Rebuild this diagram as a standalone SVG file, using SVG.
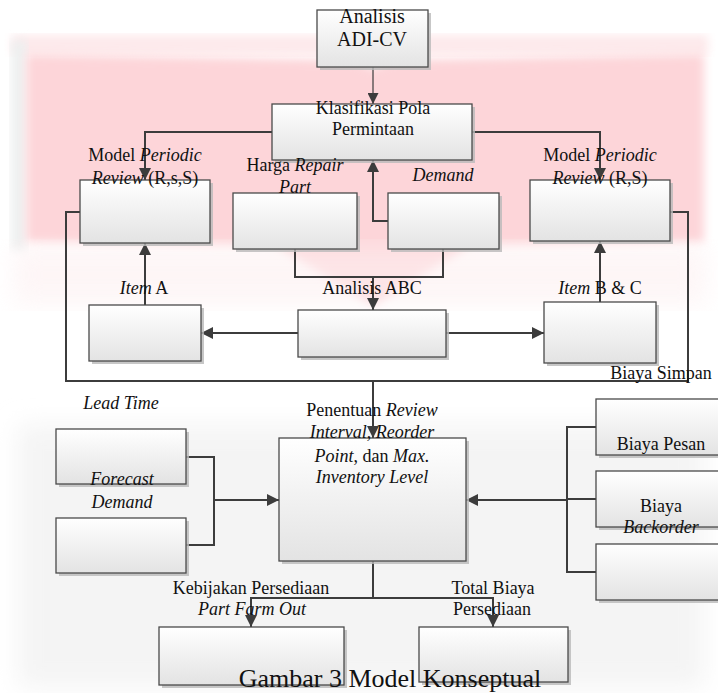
<svg xmlns="http://www.w3.org/2000/svg" width="718" height="693" viewBox="0 0 718 693" font-family="'Liberation Serif', 'Times New Roman', serif">
<defs>
<linearGradient id="g" x1="0" y1="0" x2="0" y2="1">
<stop offset="0" stop-color="#ffffff"/>
<stop offset="1" stop-color="#e3e3e3"/>
</linearGradient>
<filter id="blur" x="-10%" y="-10%" width="120%" height="120%"><feGaussianBlur stdDeviation="5"/></filter>
<filter id="blur2" x="-10%" y="-10%" width="120%" height="120%"><feGaussianBlur stdDeviation="12"/></filter>
<marker id="ah" viewBox="0 0 12 12" markerWidth="12" markerHeight="12" refX="12" refY="6" orient="auto" markerUnits="userSpaceOnUse">
<path d="M0,0 L12,6 L0,12 z" fill="#3c3c3c"/>
</marker>
<marker id="ahs" viewBox="0 0 12 12" markerWidth="11" markerHeight="11" refX="12" refY="6" orient="auto" markerUnits="userSpaceOnUse">
<path d="M0,0 L12,6 L0,12 z" fill="#3c3c3c"/>
</marker>
</defs>
<style>
.box{fill:url(#g);stroke:#4a4a4a;stroke-width:1.3}
.sh{fill:#b9b9b9;opacity:0.8}
.t{font-family:"Liberation Serif","Times New Roman",serif;font-size:18px;fill:#111;text-anchor:middle}
.i{font-style:italic}
.c{fill:none;stroke:#3c3c3c;stroke-width:2}
</style>
<rect width="718" height="693" fill="#ffffff"/>
<g id="background">
<rect x="12" y="35" width="696" height="20" fill="#fde9eb" filter="url(#blur)"/>
<rect x="11" y="40" width="16" height="210" fill="#eef0f0" filter="url(#blur)"/>
<polygon points="26,54 355,60 373,68 391,60 704,54 704,242 470,246 373,305 276,246 26,242" fill="#fdd5d9" filter="url(#blur)"/>
<rect x="14" y="245" width="692" height="60" fill="#fdf0f1" opacity="0.6" filter="url(#blur2)"/>
<rect x="18" y="425" width="686" height="262" fill="#f4f4f4" filter="url(#blur2)"/>
</g>
<g id="connectors">
<line x1="373" y1="67" x2="373" y2="104" stroke="#3c3c3c" stroke-width="1.2" marker-end="url(#ahs)"/>
<polyline class="c" points="272,132 145,132 145,180" marker-end="url(#ah)"/>
<polyline class="c" points="472,132 600,132 600,180" marker-end="url(#ah)"/>
<polyline class="c" points="388,221 373,221 373,160" marker-end="url(#ah)"/>
<polyline class="c" points="295,249 295,277 443,277 443,249"/>
<line class="c" x1="373" y1="277" x2="373" y2="310" marker-end="url(#ah)"/>
<line class="c" x1="298" y1="333" x2="201" y2="333" marker-end="url(#ah)"/>
<line class="c" x1="446" y1="333" x2="544" y2="333" marker-end="url(#ah)"/>
<line class="c" x1="145" y1="305" x2="145" y2="243" marker-end="url(#ah)"/>
<line class="c" x1="600" y1="302" x2="600" y2="241" marker-end="url(#ah)"/>
<polyline class="c" points="80,212 66,212 66,381 688,381 688,212 670,212"/>
<line class="c" x1="373" y1="381" x2="373" y2="438" marker-end="url(#ah)"/>
<polyline class="c" points="186,457 214,457 214,545 186,545"/>
<line class="c" x1="214" y1="500" x2="279" y2="500" marker-end="url(#ah)"/>
<polyline class="c" points="596,427 567,427 567,572 596,572"/>
<line class="c" x1="596" y1="499" x2="567" y2="499"/>
<line class="c" x1="567" y1="500" x2="466" y2="500" marker-end="url(#ah)"/>
<polyline class="c" points="373,561 373,598"/>
<polyline class="c" points="251,627 251,598 493,598 493,627"/>
<line x1="251" y1="600" x2="251" y2="627" stroke="none" marker-end="url(#ah)"/>
<line x1="493" y1="600" x2="493" y2="627" stroke="none" marker-end="url(#ah)"/>
</g>
<g id="adi-cv">
<rect class="sh" x="320" y="13" width="111" height="57"/>
<rect class="box" x="317" y="10" width="111" height="57"/>
<text class="t" x="372" y="23" style="font-size:20px">Analisis</text>
<text class="t" x="372" y="46" style="font-size:20px">ADI-CV</text>
</g>
<g id="klasifikasi">
<rect class="sh" x="275" y="107" width="200" height="56"/>
<rect class="box" x="272" y="104" width="200" height="56"/>
<text class="t" x="373" y="114">Klasifikasi Pola</text>
<text class="t" x="373" y="135">Permintaan</text>
</g>
<g id="model-rss">
<rect class="sh" x="83" y="183" width="130" height="63"/>
<rect class="box" x="80" y="180" width="130" height="63"/>
<text class="t" x="145" y="161">Model <tspan class="i">Periodic</tspan></text>
<text class="t" x="145" y="184"><tspan class="i">Review</tspan> (R,s,S)</text>
</g>
<g id="harga">
<rect class="sh" x="236" y="196" width="124" height="56"/>
<rect class="box" x="233" y="193" width="124" height="56"/>
<text class="t" x="295" y="171">Harga <tspan class="i">Repair</tspan></text>
<text class="t i" x="295" y="193">Part</text>
</g>
<g id="demand">
<rect class="sh" x="391" y="196" width="111" height="56"/>
<rect class="box" x="388" y="193" width="111" height="56"/>
<text class="t i" x="443" y="181">Demand</text>
</g>
<g id="model-rs">
<rect class="sh" x="533" y="183" width="140" height="61"/>
<rect class="box" x="530" y="180" width="140" height="61"/>
<text class="t" x="600" y="161">Model <tspan class="i">Periodic</tspan></text>
<text class="t" x="600" y="184"><tspan class="i">Review</tspan> (R,S)</text>
</g>
<g id="abc">
<rect class="sh" x="301" y="313" width="148" height="47"/>
<rect class="box" x="298" y="310" width="148" height="47"/>
<text class="t" x="372" y="294">Analisis  ABC</text>
</g>
<g id="item-a">
<rect class="sh" x="92" y="308" width="112" height="56"/>
<rect class="box" x="89" y="305" width="112" height="56"/>
<text class="t" x="144" y="294"><tspan class="i">Item</tspan> A</text>
</g>
<g id="item-bc">
<rect class="sh" x="547" y="305" width="112" height="61"/>
<rect class="box" x="544" y="302" width="112" height="61"/>
<text class="t" x="600" y="294"><tspan class="i">Item</tspan> B &amp; C</text>
</g>
<g id="lead-time">
<rect class="sh" x="59" y="432" width="130" height="55"/>
<rect class="box" x="56" y="429" width="130" height="55"/>
<text class="t i" x="121" y="409">Lead Time</text>
</g>
<g id="forecast">
<rect class="sh" x="59" y="521" width="130" height="55"/>
<rect class="box" x="56" y="518" width="130" height="55"/>
<text class="t i" x="122" y="485">Forecast</text>
<text class="t i" x="122" y="508">Demand</text>
</g>
<g id="penentuan">
<rect class="sh" x="282" y="441" width="187" height="123"/>
<rect class="box" x="279" y="438" width="187" height="123"/>
<text class="t" x="372" y="416">Penentuan <tspan class="i">Review</tspan></text>
<text class="t i" x="372" y="438">Interval, Reorder</text>
<text class="t" x="372" y="462"><tspan class="i">Point</tspan>, dan <tspan class="i">Max.</tspan></text>
<text class="t i" x="372" y="483">Inventory Level</text>
</g>
<g id="biaya-simpan">
<rect class="sh" x="599" y="402" width="130" height="56"/>
<rect class="box" x="596" y="399" width="130" height="56"/>
<text class="t" x="661" y="379">Biaya Simpan</text>
<text class="t" x="661" y="450">Biaya Pesan</text>
</g>
<g id="biaya-pesan">
<rect class="sh" x="599" y="474" width="130" height="56"/>
<rect class="box" x="596" y="471" width="130" height="56"/>
<text class="t" x="661" y="512">Biaya</text>
<text class="t i" x="661" y="533">Backorder</text>
</g>
<g id="biaya-backorder">
<rect class="sh" x="599" y="547" width="130" height="56"/>
<rect class="box" x="596" y="544" width="130" height="56"/>
</g>
<g id="kebijakan">
<rect class="sh" x="162" y="630" width="185" height="58"/>
<rect class="box" x="159" y="627" width="185" height="58"/>
<text class="t" x="251" y="594">Kebijakan Persediaan</text>
<text class="t i" x="252" y="615">Part Farm Out</text>
</g>
<g id="total-biaya">
<rect class="sh" x="422" y="630" width="149" height="55"/>
<rect class="box" x="419" y="627" width="149" height="55"/>
<text class="t" x="493" y="594">Total Biaya</text>
<text class="t" x="492" y="615">Persediaan</text>
</g>
<text class="t" x="390" y="687" style="font-size:26px">Gambar 3 Model Konseptual</text>
</svg>
